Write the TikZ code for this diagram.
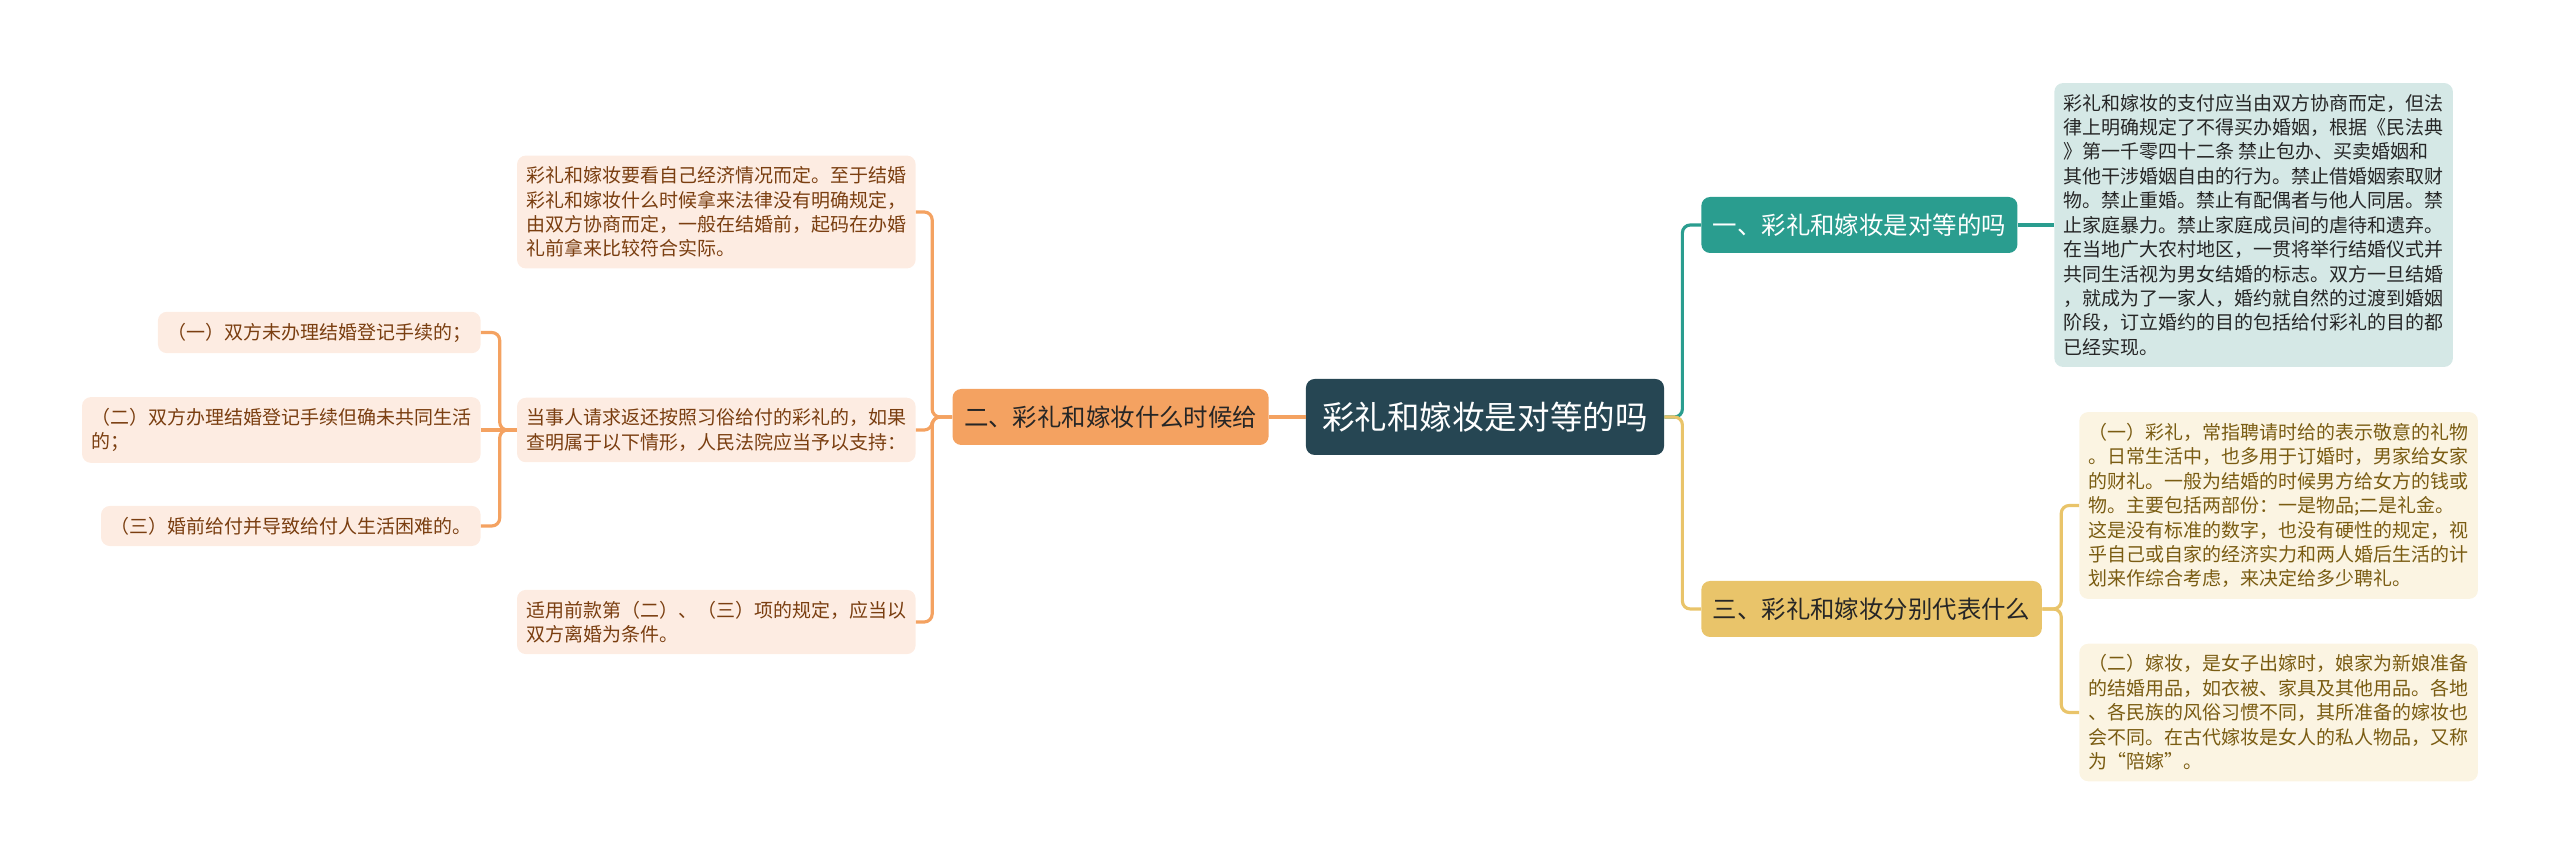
\documentclass[tikz,border=0pt]{standalone}
\usepackage{fontspec}
\newfontfamily\cjk{Noto Sans CJK SC}
\usepackage{xcolor}
\definecolor{rootblue}{RGB}{38,70,83}
\definecolor{tealmain}{RGB}{42,157,143}
\definecolor{goldmain}{RGB}{233,196,106}
\definecolor{orangemain}{RGB}{244,162,97}
\definecolor{tealfill}{RGB}{213,232,230}
\definecolor{goldfill}{RGB}{251,244,226}
\definecolor{orangefill}{RGB}{253,236,226}
\definecolor{orangetext}{RGB}{122,62,16}
\definecolor{goldtext}{RGB}{122,92,18}

\begin{document}
\begin{tikzpicture}[
    rootbox/.style={rectangle, rounded corners=5pt, fill=rootblue, text=white,
                    minimum height=1.52cm, inner xsep=0.33cm, font=\cjk\fontsize{18.5pt}{22pt}\selectfont},
    topic/.style={rectangle, rounded corners=5pt, minimum height=1.12cm, inner xsep=0.23cm,
                  font=\cjk\fontsize{13.9pt}{16pt}\selectfont},
    detail/.style={rectangle, rounded corners=5pt, align=left, inner xsep=0.19cm, inner ysep=0.22cm,
                   font=\cjk\fontsize{10.8pt}{13.9pt}\selectfont},
    link/.style={line width=1.8pt, rounded corners=4.5pt},
]

\useasboundingbox (-29.7,8.34) rectangle (21.5,-8.96);

% Centre topic
\node[rootbox] (root) at (0,0) {彩礼和嫁妆是对等的吗};

% Main branches
\node[topic, fill=tealmain, text=white, anchor=west] (one) at (4.32,3.84) {一、彩礼和嫁妆是对等的吗};
\node[topic, fill=orangemain, text=black!85, anchor=east] (two) at (-4.32,0) {二、彩礼和嫁妆什么时候给};
\node[topic, fill=goldmain, text=black!85, anchor=west] (three) at (4.32,-3.84) {三、彩礼和嫁妆分别代表什么};

% Branch one: law text
\node[detail, fill=tealfill, text=black!85, anchor=west] (law) at (11.38,3.84) {彩礼和嫁妆的支付应当由双方协商而定，但法\\
律上明确规定了不得买办婚姻，根据《民法典\\
》第一千零四十二条 禁止包办、买卖婚姻和\\
其他干涉婚姻自由的行为。禁止借婚姻索取财\\
物。禁止重婚。禁止有配偶者与他人同居。禁\\
止家庭暴力。禁止家庭成员间的虐待和遗弃。\\
在当地广大农村地区，一贯将举行结婚仪式并\\
共同生活视为男女结婚的标志。双方一旦结婚\\
，就成为了一家人，婚约就自然的过渡到婚姻\\
阶段，订立婚约的目的包括给付彩礼的目的都\\
已经实现。};

% Branch two: when to give
\node[detail, fill=orangefill, text=orangetext, anchor=east] (whenA) at (-11.38,4.10) {彩礼和嫁妆要看自己经济情况而定。至于结婚\\
彩礼和嫁妆什么时候拿来法律没有明确规定，\\
由双方协商而定，一般在结婚前，起码在办婚\\
礼前拿来比较符合实际。};
\node[detail, fill=orangefill, text=orangetext, anchor=east] (whenB) at (-11.38,-0.26) {当事人请求返还按照习俗给付的彩礼的，如果\\
查明属于以下情形，人民法院应当予以支持：};
\node[detail, fill=orangefill, text=orangetext, anchor=east] (whenC) at (-11.38,-4.10) {适用前款第（二）、（三）项的规定，应当以\\
双方离婚为条件。};

\node[detail, fill=orangefill, text=orangetext, anchor=east] (caseA) at (-20.08,1.69) {（一）双方未办理结婚登记手续的；};
\node[detail, fill=orangefill, text=orangetext, anchor=east] (caseB) at (-20.08,-0.26) {（二）双方办理结婚登记手续但确未共同生活\\
的；};
\node[detail, fill=orangefill, text=orangetext, anchor=east] (caseC) at (-20.08,-2.18) {（三）婚前给付并导致给付人生活困难的。};

% Branch three: what they stand for
\node[detail, fill=goldfill, text=goldtext, anchor=west] (gift) at (11.88,-1.77) {（一）彩礼，常指聘请时给的表示敬意的礼物\\
。日常生活中，也多用于订婚时，男家给女家\\
的财礼。一般为结婚的时候男方给女方的钱或\\
物。主要包括两部份：一是物品;二是礼金。\\
这是没有标准的数字，也没有硬性的规定，视\\
乎自己或自家的经济实力和两人婚后生活的计\\
划来作综合考虑，来决定给多少聘礼。};
\node[detail, fill=goldfill, text=goldtext, anchor=west] (dowry) at (11.88,-5.91) {（二）嫁妆，是女子出嫁时，娘家为新娘准备\\
的结婚用品，如衣被、家具及其他用品。各地\\
、各民族的风俗习惯不同，其所准备的嫁妆也\\
会不同。在古代嫁妆是女人的私人物品，又称\\
为“陪嫁”。};

% Links
\draw[link, orangemain] (root.west) -- (two.east);
\draw[link, orangemain] (two.west) -- ++(-0.4,0) |- (whenA.east);
\draw[link, orangemain] (two.west) -- ++(-0.4,0) |- (whenB.east);
\draw[link, orangemain] (two.west) -- ++(-0.4,0) |- (whenC.east);
\draw[link, orangemain] (whenB.west) -- ++(-0.34,0) |- (caseA.east);
\draw[link, orangemain] (whenB.west) -- (caseB.east);
\draw[link, orangemain] (whenB.west) -- ++(-0.34,0) |- (caseC.east);

\draw[link, tealmain] (root.east) -- ++(0.36,0) |- (one.west);
\draw[link, goldmain] (root.east) -- ++(0.36,0) |- (three.west);
\draw[link, tealmain] (one.east) -- (law.west);
\draw[link, goldmain] (three.east) -- ++(0.38,0) |- (gift.west);
\draw[link, goldmain] (three.east) -- ++(0.38,0) |- (dowry.west);

\end{tikzpicture}
\end{document}
